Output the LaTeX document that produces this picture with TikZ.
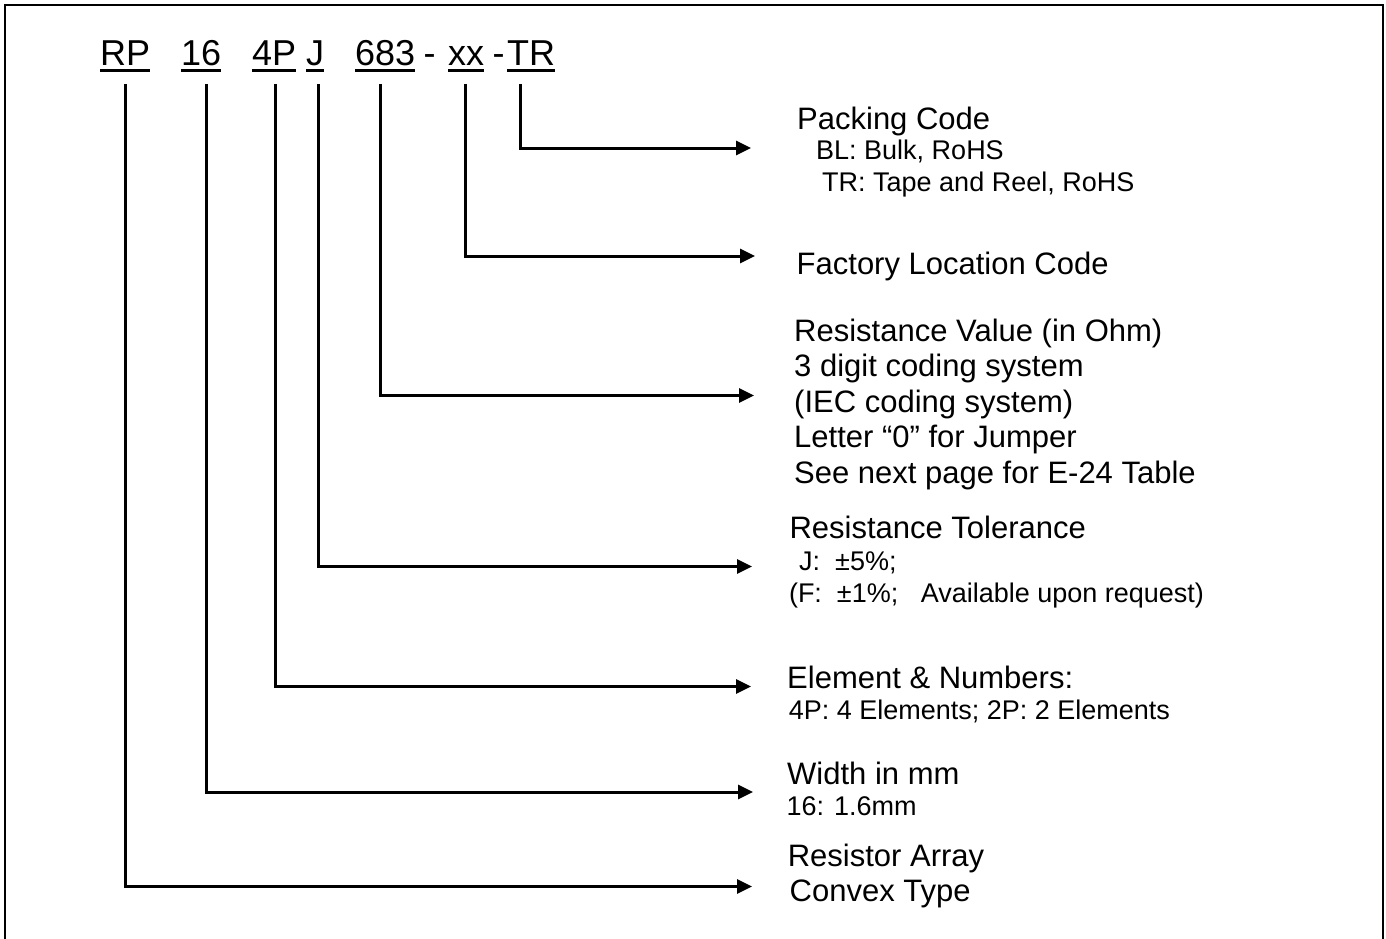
\documentclass[tikz,border=0pt]{standalone}
\usepackage{fontspec}
\setmainfont{Liberation Sans}
\usetikzlibrary{arrows.meta,calc}
\begin{document}
\begin{tikzpicture}[x=1pt,y=-1pt,
  conn/.style={line width=3pt, line join=miter, -{Triangle[length=15pt,width=14pt]}},
  frameline/.style={line width=2pt},
  uline/.style={line width=3pt},
  code/.style={anchor=base west, inner sep=0pt, font=\fontsize{36}{43}\selectfont},
  big/.style={anchor=base west, inner sep=0pt, font=\fontsize{31}{36}\selectfont},
  small/.style={anchor=base west, inner sep=0pt, font=\fontsize{27}{31}\selectfont}]
\useasboundingbox (0,0) rectangle (1386,939);
% frame
\draw[frameline] (5,960) -- (5,5) -- (1383,5) -- (1383,960);

% part number
\node[code] (cRP)  at (100,65.5) {RP};
\node[code] (c16)  at (181,65.5) {16};
\node[code] (c4P)  at (252,65.5) {4P};
\node[code] (cJ)   at (306,65.5) {J};
\node[code] (c683) at (355,65.5) {683};
\node[code] (d1)   at (423.4,65.5) {-};
\node[code] (cxx)  at (448,65.5) {xx};
\node[code] (d2)   at (492.5,65.5) {-};
\node[code] (cTR)  at (507,65.5) {TR};
\foreach \n in {cRP,c16,c4P,cJ,c683,cxx,cTR}
  \draw[uline] ($(\n.base west)+(0,5.5)$) -- ($(\n.base east)+(0,5.5)$);

% labels
\node[big]   (pc1) at (797,129) {Packing Code};
\node[small] (pc2) at (816,160) {BL: Bulk, RoHS};
\node[small] (pc3) at (822,191) {TR: Tape and Reel, RoHS};

\node[big] (fl1) at (796.5,274) {Factory Location Code};

\node[big] (rv1) at (794,341) {Resistance Value (in Ohm)};
\node[big] (rv2) at (794,376.5) {3 digit coding system};
\node[big] (rv3) at (794,412) {(IEC coding system)};
\node[big] (rv4) at (794,447.5) {Letter “0” for Jumper};
\node[big] (rv5) at (794,483) {See next page for E-24 Table};

\node[big]   (rt1) at (789.3,538) {Resistance Tolerance};
\node[small] (rt2) at (799,570) {J:\ \ ±5\%;};
\node[small] (rt3) at (788.8,602) {(F:\ \ ±1\%;\ \ \ Available upon request)};

\node[big]   (en1) at (787,688) {Element \& Numbers:};
\node[small] (en2) at (788.6,719) {4P: 4 Elements; 2P: 2 Elements};

\node[big]   (wd1) at (787,784) {Width in mm};
\node[small] (wd2) at (786.4,815) {16: 1.6mm};

\node[big] (ra1) at (787.6,866) {Resistor Array};
\node[big] (ra2) at (789.5,901.5) {Convex Type};

% connector end points
\coordinate (sRP)  at (125.5,84);
\coordinate (s16)  at (206,84);
\coordinate (s4P)  at (275,84);
\coordinate (sJ)   at (318,84);
\coordinate (s683) at (380.5,84);
\coordinate (sxx)  at (465,84);
\coordinate (sTR)  at (520.7,84);

\coordinate (tTR)  at (751,148);
\coordinate (txx)  at (755,256);
\coordinate (t683) at (754,395.5);
\coordinate (tJ)   at (752,566.5);
\coordinate (t4P)  at (751,686.5);
\coordinate (t16)  at (753,792);
\coordinate (tRP)  at (752,886.5);

\draw[conn] (sTR)  |- (tTR);
\draw[conn] (sxx)  |- (txx);
\draw[conn] (s683) |- (t683);
\draw[conn] (sJ)   |- (tJ);
\draw[conn] (s4P)  |- (t4P);
\draw[conn] (s16)  |- (t16);
\draw[conn] (sRP)  |- (tRP);
\end{tikzpicture}
\end{document}
